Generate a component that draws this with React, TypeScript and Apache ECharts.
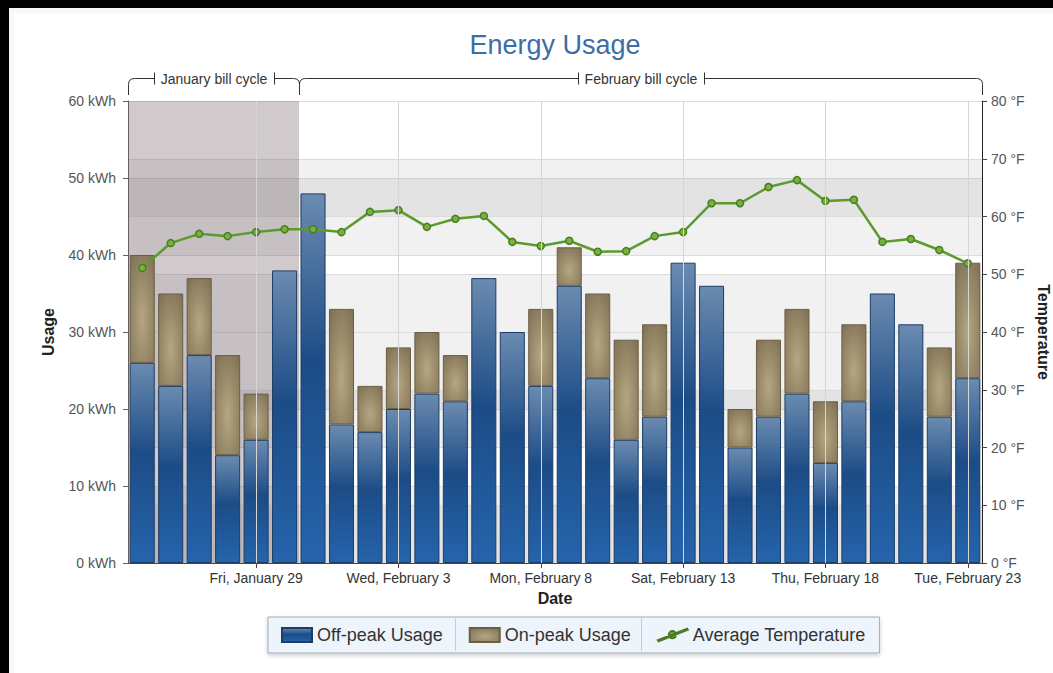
import React, { useEffect, useRef } from 'react';
import * as echarts from 'echarts';

const categories = [
  'Mon, January 25', 'Tue, January 26', 'Wed, January 27', 'Thu, January 28', 'Fri, January 29',
  'Sat, January 30', 'Sun, January 31', 'Mon, February 1', 'Tue, February 2', 'Wed, February 3',
  'Thu, February 4', 'Fri, February 5', 'Sat, February 6', 'Sun, February 7', 'Mon, February 8',
  'Tue, February 9', 'Wed, February 10', 'Thu, February 11', 'Fri, February 12', 'Sat, February 13',
  'Sun, February 14', 'Mon, February 15', 'Tue, February 16', 'Wed, February 17', 'Thu, February 18',
  'Fri, February 19', 'Sat, February 20', 'Sun, February 21', 'Mon, February 22', 'Tue, February 23',
];
const offPeak = [26, 23, 27, 14, 16, 38, 48, 18, 17, 20, 22, 21, 37, 30, 23, 36, 24, 16, 19, 39, 36, 15, 19, 22, 13, 21, 35, 31, 19, 24];
const onPeak = [14, 12, 10, 13, 6, null, null, 15, 6, 8, 8, 6, null, null, 10, 5, 11, 13, 12, null, null, 5, 10, 11, 8, 10, null, null, 9, 15];
const avgTemp = [51.1, 55.4, 57.0, 56.6, 57.3, 57.8, 57.8, 57.3, 60.8, 61.1, 58.2, 59.6, 60.1, 55.6, 54.9, 55.8, 53.9, 54.0, 56.6, 57.3, 62.3, 62.3, 65.1, 66.3, 62.7, 62.9, 55.6, 56.1, 54.2, 51.9];
const gridDates = ['Fri, January 29', 'Wed, February 3', 'Mon, February 8', 'Sat, February 13', 'Thu, February 18', 'Tue, February 23'];
const cycleNames = ['January bill cycle', 'February bill cycle'];
const cycleStart = ['Mon, January 25', 'Sun, January 31'];
const cycleEnd = ['Sat, January 30', 'Tue, February 23'];
const cycleShaded = [true, false];

const FONT = '"Liberation Sans", Arial, Helvetica, sans-serif';

function measure(text: string, font: string): number {
  const ctx = document.createElement('canvas').getContext('2d');
  if (!ctx) return text.length * 7;
  ctx.font = font;
  return ctx.measureText(text).width;
}

export default function App() {
  const ref = useRef<HTMLDivElement>(null);
  useEffect(() => {
    if (!ref.current) return;
    const chart = echarts.init(ref.current, null, { renderer: 'svg' });
    const labelFont = `14px ${FONT}`;
    const splitAreaColors = ['rgba(0,0,0,0.055)', 'rgba(0,0,0,0)'];
    const nameStyle = { color: '#222', fontSize: 16, fontWeight: 'bold', fontFamily: FONT };
    const option: any = {
      animation: false,
      backgroundColor: '#ffffff',
      title: {
        text: 'Energy Usage',
        left: 536,
        top: 13,
        textAlign: 'center',
        textStyle: { color: '#3d6ea5', fontSize: 27, fontWeight: 'normal', fontFamily: FONT },
      },
      legend: {
        left: 254,
        top: 604,
        itemWidth: 30,
        itemHeight: 14,
        itemGap: 26,
        padding: [9, 14, 9, 13],
        backgroundColor: '#eef4fb',
        borderColor: '#a3abb4',
        borderWidth: 1,
        shadowColor: 'rgba(0,0,0,0.2)',
        shadowBlur: 4,
        shadowOffsetY: 2,
        textStyle: { color: '#333', fontSize: 18, fontFamily: FONT },
        selectedMode: false,
        data: [
          { name: 'Off-peak Usage', icon: 'rect' },
          { name: 'On-peak Usage', icon: 'rect' },
          { name: 'Average Temperature', icon: 'path://M0,13 L28,2 L28.8,3.2 L0.8,14.2 Z M10.5,7.8 A3.5,3.5 0 1,1 17.5,7.8 A3.5,3.5 0 1,1 10.5,7.8 Z' },
        ],
      },
      graphic: [
        { type: 'line', z: 100, shape: { x1: 441.5, y1: 605, x2: 441.5, y2: 638 }, style: { stroke: '#c6ccd3', lineWidth: 1 }, silent: true },
        { type: 'line', z: 100, shape: { x1: 627.5, y1: 605, x2: 627.5, y2: 638 }, style: { stroke: '#c6ccd3', lineWidth: 1 }, silent: true },
      ],
      grid: { left: 114, top: 88, right: 71, bottom: 110, containLabel: false, outerBoundsMode: 'none' },
      xAxis: {
        type: 'category',
        data: categories,
        boundaryGap: true,
        name: 'Date',
        nameLocation: 'middle',
        nameGap: 27,
        nameTextStyle: nameStyle,
        axisLine: { show: true, lineStyle: { color: '#444', width: 1 } },
        axisTick: { show: true, alignWithLabel: true, length: 5, interval: (i: number) => i % 5 === 4, lineStyle: { color: '#444' } },
        axisLabel: { interval: (i: number) => i % 5 === 4, color: '#333', fontSize: 14, fontFamily: FONT, margin: 8 },
        splitLine: { show: false },
      },
      yAxis: [
        {
          type: 'value',
          min: 0,
          max: 60,
          interval: 10,
          name: 'Usage',
          nameLocation: 'middle',
          nameGap: 72,
          nameTextStyle: nameStyle,
          axisLine: { show: true, lineStyle: { color: '#666' } },
          axisTick: { show: true, length: 5, lineStyle: { color: '#666' } },
          axisLabel: { formatter: '{value} kWh', color: '#555', fontSize: 14, fontFamily: FONT, margin: 12 },
          splitLine: { show: true, lineStyle: { color: '#dcdcdc' } },
          splitArea: { show: true, areaStyle: { color: splitAreaColors } },
        },
        {
          type: 'value',
          min: 0,
          max: 80,
          interval: 10,
          name: 'Temperature',
          nameLocation: 'middle',
          nameRotate: -90,
          nameGap: 50,
          nameTextStyle: nameStyle,
          axisLine: { show: true, lineStyle: { color: '#222' } },
          axisTick: { show: true, length: 5, lineStyle: { color: '#444' } },
          axisLabel: { formatter: '{value} °F', color: '#555', fontSize: 14, fontFamily: FONT, margin: 9 },
          splitLine: { show: true, lineStyle: { color: '#dcdcdc' } },
          splitArea: { show: true, areaStyle: { color: splitAreaColors } },
        },
      ],
      series: [
        {
          type: 'custom',
          name: 'cycles',
          coordinateSystem: 'cartesian2d',
          xAxisIndex: 0,
          yAxisIndex: 0,
          clip: false,
          silent: true,
          z: 1,
          encode: { x: [0, 1], y: 2 },
          data: cycleNames.map((n, i) => ({
            name: n,
            value: [categories.indexOf(cycleStart[i]), categories.indexOf(cycleEnd[i]), 0],
          })),
          renderItem: (params: any, api: any) => {
            const s = api.value(0);
            const e = api.value(1);
            const bw = api.size([1, 0])[0];
            const cs = params.coordSys;
            const x0 = Math.round(api.coord([s, 0])[0] - bw / 2) + 0.5;
            const x1 = Math.round(api.coord([e, 0])[0] + bw / 2) + 0.5;
            const top = cs.y;
            const yl = Math.round(top - 23) + 0.5;
            const yb = top - 6;
            const r = 6;
            const name = cycleNames[params.dataIndex];
            const tw = measure(name, labelFont);
            const cx = (x0 + x1) / 2;
            const tl = Math.round(cx - tw / 2 - 7) + 0.5;
            const tr = Math.round(cx + tw / 2 + 7) + 0.5;
            const d =
              `M${x0} ${yb} L${x0} ${yl + r} Q${x0} ${yl} ${x0 + r} ${yl} L${tl} ${yl} ` +
              `M${tl} ${yl - 6} L${tl} ${yl + 6} M${tr} ${yl - 6} L${tr} ${yl + 6} ` +
              `M${tr} ${yl} L${x1 - r} ${yl} Q${x1} ${yl} ${x1} ${yl + r} L${x1} ${yb}`;
            const children: any[] = [];
            if (cycleShaded[params.dataIndex]) {
              children.push({
                type: 'rect',
                shape: { x: x0 - 0.5, y: cs.y, width: x1 - x0, height: cs.height },
                style: { fill: 'rgba(100,80,90,0.3)' },
              });
            }
            children.push({
              type: 'path',
              shape: { pathData: d },
              style: { stroke: '#333', fill: null, lineWidth: 1 },
            });
            children.push({
              type: 'text',
              style: {
                text: name,
                x: cx,
                y: yl,
                align: 'center',
                verticalAlign: 'middle',
                fill: '#333',
                font: labelFont,
              },
            });
            return { type: 'group', children };
          },
          markLine: {
            silent: true,
            symbol: 'none',
            label: { show: false },
            lineStyle: { color: '#d6d6d6', type: 'solid', width: 1 },
            data: gridDates.map((d) => ({ xAxis: d })),
          },
        },
        {
          type: 'bar',
          name: 'Off-peak Usage',
          stack: 'usage',
          data: offPeak,
          barCategoryGap: '12%',
          z: 3,
          emphasis: { disabled: true },
          itemStyle: {
            color: new echarts.graphic.LinearGradient(0, 0, 0, 1, [
              { offset: 0, color: '#6b8bb0' },
              { offset: 0.45, color: '#1c4c86' },
              { offset: 1, color: '#2564ac' },
            ]),
            borderColor: '#1b3d66',
            borderWidth: 1,
          },
        },
        {
          type: 'bar',
          name: 'On-peak Usage',
          stack: 'usage',
          data: onPeak,
          barCategoryGap: '12%',
          z: 3,
          emphasis: { disabled: true },
          itemStyle: {
            color: new echarts.graphic.RadialGradient(0.5, 0.6, 0.75, [
              { offset: 0, color: '#b5a781' },
              { offset: 1, color: '#7f7154' },
            ]),
            borderColor: '#6b5e45',
            borderWidth: 1,
          },
        },
        {
          type: 'line',
          name: 'Average Temperature',
          yAxisIndex: 1,
          data: avgTemp,
          z: 4,
          symbol: 'circle',
          symbolSize: 7,
          emphasis: { disabled: true },
          lineStyle: { color: '#5b9a2c', width: 2.5 },
          itemStyle: { color: '#79b140', borderColor: '#4a7d22', borderWidth: 1.5 },
        },
      ],
    };
    chart.setOption(option);
    return () => chart.dispose();
  }, []);

  return (
    <div style={{ position: 'fixed', left: 0, top: 0, width: 1053, height: 673, background: '#000', overflow: 'hidden' }}>
      <div style={{ position: 'absolute', left: 9, top: 8, width: 1044, height: 665, background: '#f8f8f8' }}>
        <div ref={ref} style={{ position: 'absolute', left: 5, top: 5, width: 1039, height: 660 }} />
      </div>
    </div>
  );
}
